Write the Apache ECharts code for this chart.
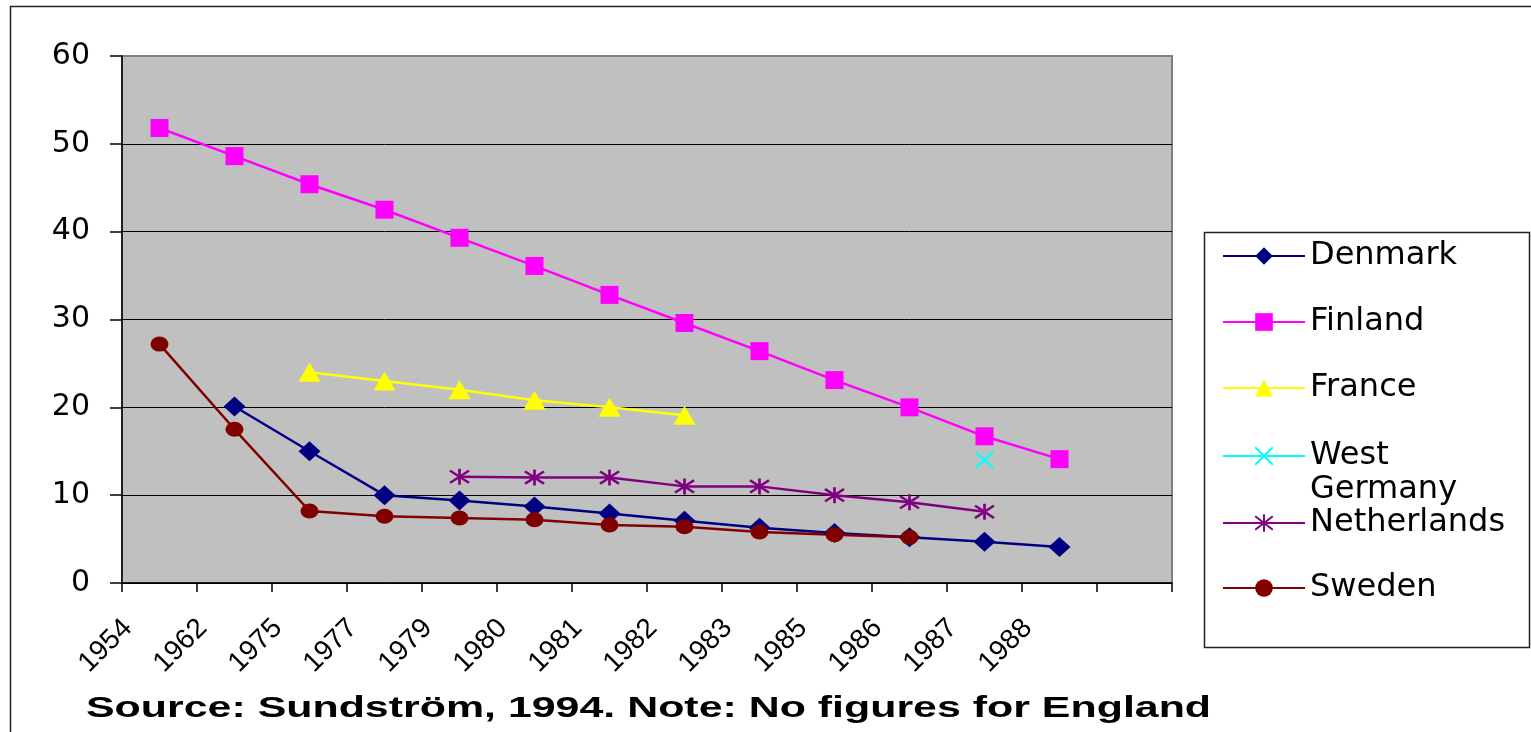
<!DOCTYPE html>
<html>
<head>
<meta charset="utf-8">
<script src="https://cdn.jsdelivr.net/npm/echarts@6/dist/echarts.min.js"></script>
<style>
html,body{margin:0;padding:0;background:#fff;}
#chart{width:1531px;height:732px;}
</style>
</head>
<body>
<div id="chart"></div>
<script>
// Categories (last slot is an empty category, as in the original)
var years = ['1954','1962','1975','1977','1979','1980','1981','1982','1983','1985','1986','1987','1988',''];
var yTicks = [0, 10, 20, 30, 40, 50, 60];

var denmark     = [null, 20.1, 15.0, 10.0, 9.4, 8.7, 7.9, 7.1, 6.3, 5.7, 5.2, 4.7, 4.1, null];
var finland     = [51.8, 48.6, 45.4, 42.5, 39.3, 36.1, 32.8, 29.6, 26.4, 23.1, 20.0, 16.7, 14.1, null];
var france      = [null, null, 24.0, 23.0, 22.0, 20.8, 20.0, 19.1, null, null, null, null, null, null];
var westGermany = [null, null, null, null, null, null, null, null, null, null, null, 14.0, null, null];
var netherlands = [null, null, null, null, 12.1, 12.0, 12.0, 11.0, 11.0, 10.0, 9.2, 8.1, null, null];
var sweden      = [27.2, 17.5, 8.2, 7.6, 7.4, 7.2, 6.6, 6.4, 5.8, 5.5, 5.2, null, null, null];

var seriesNames = ['Denmark', 'Finland', 'France', 'West Germany', 'Netherlands', 'Sweden'];
var sourceNote = 'Source: Sundström, 1994. Note: No figures for England';

var chart = echarts.init(document.getElementById('chart'));
var FONT = 'Liberation Sans, Arial, sans-serif';
var WIDE = 'DejaVu Sans, Verdana, sans-serif';

var xPath = 'path://M0,0 L10,10 M10,0 L0,10';
var starPath = 'path://M0,0 L10,10 M10,0 L0,10 M5,-1.5 L5,11.5';

function lineSeries(name, data, color, symbol, size, extraItem) {
  var it = {color: color};
  if (extraItem) { for (var k in extraItem) it[k] = extraItem[k]; }
  return {
    name: name, type: 'line', data: data,
    symbol: symbol, symbolSize: size,
    connectNulls: false,
    lineStyle: {color: color, width: 2.5},
    itemStyle: it,
    emphasis: {disabled: true},
    animation: false
  };
}

var legendTops = [240, 306, 372, 405, 507, 572];
var legends = seriesNames.map(function (n, i) {
  var ts = {fontFamily: WIDE, fontSize: 32, color: '#000', lineHeight: 30};
  if (n === 'West Germany') {
    ts = {fontFamily: WIDE, fontSize: 32, color: '#000', lineHeight: 34};
  }
  return {
    data: [n],
    orient: 'vertical',
    left: 1222, top: legendTops[i],
    padding: 0,
    itemWidth: 82, itemHeight: 22,
    selectedMode: false,
    formatter: function (name) { return name === 'West Germany' ? '\nWest\nGermany' : name; },
    textStyle: ts
  };
});

var option = {
  backgroundColor: '#fff',
  animation: false,
  legend: legends,
  grid: {
    left: 122, right: 359, top: 56, bottom: 149,
    show: true, backgroundColor: '#C0C0C0', borderColor: '#808080', borderWidth: 2
  },
  xAxis: {
    type: 'category', data: years, boundaryGap: true,
    axisLine: {lineStyle: {color: '#000', width: 1.5}},
    axisTick: {show: true, interval: 0, length: 9, lineStyle: {color: '#000', width: 1.5}},
    axisLabel: {
      interval: 0, rotate: 45, fontFamily: FONT, fontSize: 28, color: '#000',
      margin: 9, padding: [0, 45, 0, 0]
    },
    splitLine: {show: false}
  },
  yAxis: {
    type: 'value', min: yTicks[0], max: yTicks[yTicks.length - 1], interval: 10,
    axisLine: {show: true, lineStyle: {color: '#000', width: 1.5}},
    axisTick: {show: true, length: 12, lineStyle: {color: '#000', width: 1.5}},
    axisLabel: {fontFamily: WIDE, fontSize: 30, color: '#000', margin: 32},
    splitLine: {show: true, lineStyle: {color: ['#000','#000','#000','#000','#000','#000','#808080'], width: 1}}
  },
  graphic: [
    {type: 'rect', silent: true, z: -10,
     shape: {x: 10.5, y: 6.5, width: 1600, height: 800},
     style: {fill: 'none', stroke: '#222', lineWidth: 1.5}},
    {type: 'rect', silent: true, z: -5,
     shape: {x: 1204.5, y: 232.5, width: 325, height: 415},
     style: {fill: '#fff', stroke: '#222', lineWidth: 1.5}},
    {type: 'text', silent: true, x: 86, y: 709, scaleX: 1.43, scaleY: 1,
     style: {text: sourceNote, x: 0, y: 0, fill: '#000',
             font: 'bold 30px "Liberation Sans", Arial, sans-serif',
             verticalAlign: 'middle', textVerticalAlign: 'middle'}}
  ],
  series: [
    lineSeries('Denmark', denmark, '#000080', 'diamond', [22, 20]),
    lineSeries('Finland', finland, '#FF00FF', 'rect', 18),
    lineSeries('France', france, '#FFFF00', 'triangle', [22, 19]),
    lineSeries('West Germany', westGermany, '#00FFFF', xPath, [18, 16], {borderColor: '#00FFFF', borderWidth: 2.5}),
    lineSeries('Netherlands', netherlands, '#800080', starPath, [19, 16], {borderColor: '#800080', borderWidth: 2.5}),
    lineSeries('Sweden', sweden, '#800000', 'circle', [18, 15])
  ]
};
chart.setOption(option);
</script>
</body>
</html>
